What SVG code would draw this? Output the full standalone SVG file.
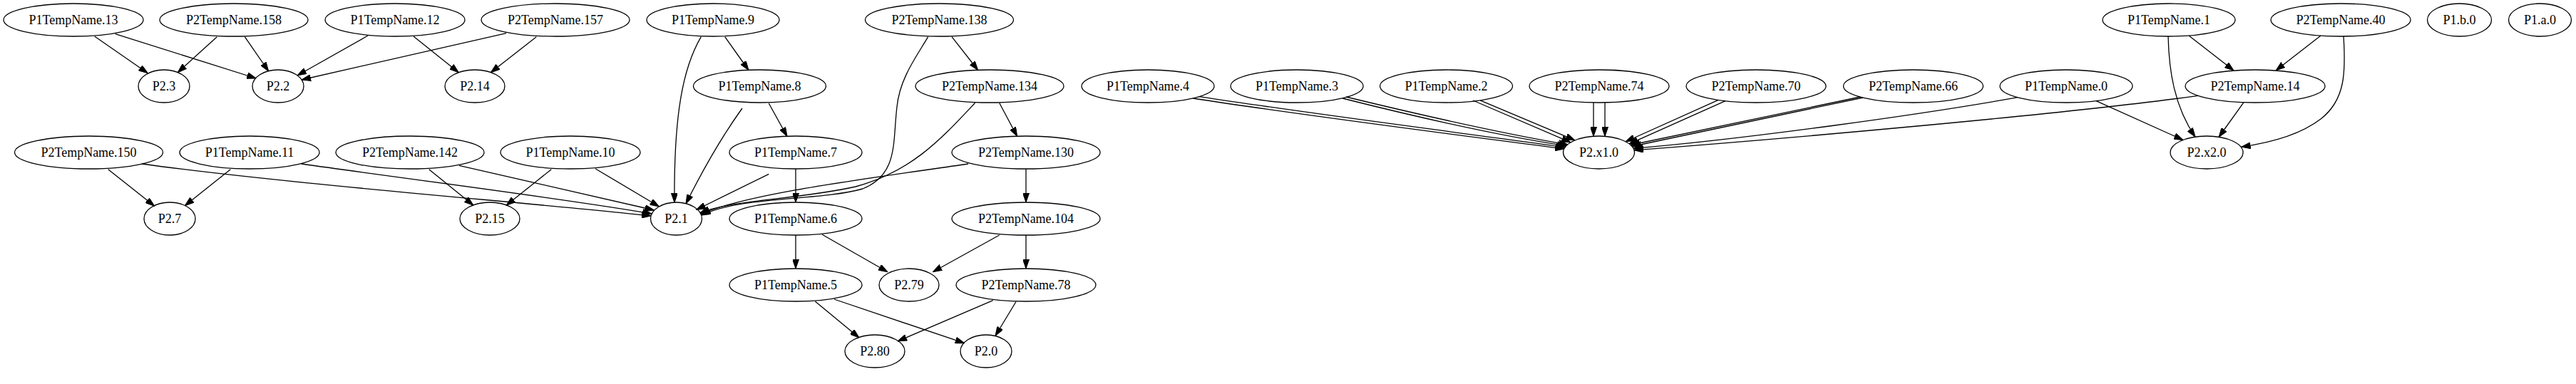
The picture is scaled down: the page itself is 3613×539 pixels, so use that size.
<svg xmlns="http://www.w3.org/2000/svg" width="3613" height="539" viewBox="0 0 3613 539">
<style>
.node ellipse{fill:none;stroke:#000;stroke-width:1.3}
.node text{font-family:"Liberation Serif","Times New Roman",serif;font-size:18px;fill:#000;text-anchor:middle}
#edges path{fill:none;stroke:#000;stroke-width:1.3;marker-end:url(#arr)}
</style>
<defs>
<marker id="arr" viewBox="0 0 13 9" refX="13" refY="4.5" markerWidth="13" markerHeight="9" markerUnits="userSpaceOnUse" orient="auto">
<path d="M0,0 L13,4.5 L0,9 z" fill="#000" stroke="#000" stroke-width="1"/>
</marker>
</defs>
<rect width="3613" height="539" fill="#fff"/>
<g id="edges">
<path d="M132.7,51 L207.3,102.7"/>
<path d="M161.7,47.7 L359.3,110"/>
<path d="M304.3,51.7 L249.3,101.7"/>
<path d="M343.3,51.7 L376.7,100"/>
<path d="M516,50 L417,106"/>
<path d="M710,46.7 L423,112"/>
<path d="M580,51 L643.3,101.7"/>
<path d="M752.3,51.7 L688.3,101.7"/>
<path d="M151.7,237.7 L216.7,289.3"/>
<path d="M323.3,237.7 L259.3,288.7"/>
<path d="M199,230 C400,258 750,285 913,303"/>
<path d="M422.7,230 C600,255 800,280 914,300"/>
<path d="M601.7,237.7 L664,288.3"/>
<path d="M773.3,237.7 L710,288.3"/>
<path d="M644,232.3 L917.5,295"/>
<path d="M835,236.7 L924.5,290"/>
<path d="M983.3,51.7 C958,95 945,160 946,284.2"/>
<path d="M1041,152 C1010,195 980,250 962,286"/>
<path d="M1078.3,244.3 L976.5,294.5"/>
<path d="M1358,230 C1200,253 1050,272 983,300.4"/>
<path d="M1367.7,144.3 C1320,195 1280,240 1200,262 C1120,280 1030,280 982,298.6"/>
<path d="M1301.7,51.7 C1285,80 1262,110 1258,150 C1252,200 1260,245 1210,265 C1150,282 1040,275 984,302"/>
<path d="M1016.7,51.7 L1050,98.5"/>
<path d="M1078.3,145 L1104,191.5"/>
<path d="M1116,237 L1116,284"/>
<path d="M1116,330 L1116,377"/>
<path d="M1153.3,329.3 L1245,381.7"/>
<path d="M1401.7,330 L1308.3,381.7"/>
<path d="M1439,330 L1439,377"/>
<path d="M1439,237 L1439,284"/>
<path d="M1335,51.7 L1371.7,98.5"/>
<path d="M1401.7,144.5 L1426.7,191.5"/>
<path d="M1143.3,423 L1205,474"/>
<path d="M1170,420 L1352.7,481.7"/>
<path d="M1392.7,421.7 L1259,479"/>
<path d="M1425,423.5 L1396,471.5"/>
<path d="M1673,138 C1850,165 2050,190 2194,209"/>
<path d="M1682,135.6 C1855,162 2055,187 2195,206.8"/>
<path d="M1883,138 C1990,165 2100,190 2197,204.8"/>
<path d="M1888,136 C1995,162 2105,187 2199,203"/>
<path d="M2066,141 L2203,199.9"/>
<path d="M2076,140.8 L2209,196.9"/>
<path d="M2235,144 L2235,191.3"/>
<path d="M2251,144 L2251,191.3"/>
<path d="M2410,140.4 L2280,198.8"/>
<path d="M2420,141.7 L2285,201.9"/>
<path d="M2609,136 L2287,203.5"/>
<path d="M2613,137 L2289,205.5"/>
<path d="M2830,136.7 C2700,160 2450,195 2291,208.4"/>
<path d="M3083,134.3 C2900,160 2500,195 2292,210.8"/>
<path d="M2940,141.7 L3062,196.5"/>
<path d="M3147,143.7 L3112,192.5"/>
<path d="M3041,51 C3042,100 3050,150 3079,192.2"/>
<path d="M3070,50 L3133,99.1"/>
<path d="M3255,50 L3192,99"/>
<path d="M3287,51 C3290,100 3290,140 3255,167 C3225,190 3180,201 3143.5,206.2"/>
</g>
<g id="n13" class="node"><ellipse cx="103" cy="28" rx="98" ry="23"/><text x="103" y="34">P1TempName.13</text></g>
<g id="n158" class="node"><ellipse cx="328" cy="28" rx="104" ry="23"/><text x="328" y="34">P2TempName.158</text></g>
<g id="n12" class="node"><ellipse cx="554" cy="28" rx="98" ry="23"/><text x="554" y="34">P1TempName.12</text></g>
<g id="n157" class="node"><ellipse cx="779" cy="28" rx="104" ry="23"/><text x="779" y="34">P2TempName.157</text></g>
<g id="n9" class="node"><ellipse cx="1000" cy="28" rx="93" ry="23"/><text x="1000" y="34">P1TempName.9</text></g>
<g id="n138" class="node"><ellipse cx="1317.5" cy="28" rx="104" ry="23"/><text x="1317.5" y="34">P2TempName.138</text></g>
<g id="n1" class="node"><ellipse cx="3042" cy="28" rx="93" ry="23"/><text x="3042" y="34">P1TempName.1</text></g>
<g id="n40" class="node"><ellipse cx="3283" cy="28" rx="98" ry="23"/><text x="3283" y="34">P2TempName.40</text></g>
<g id="p1b0" class="node"><ellipse cx="3449.5" cy="28" rx="45" ry="23"/><text x="3449.5" y="34">P1.b.0</text></g>
<g id="p1a0" class="node"><ellipse cx="3562.5" cy="28" rx="44" ry="23"/><text x="3562.5" y="34">P1.a.0</text></g>
<g id="p23" class="node"><ellipse cx="230" cy="121" rx="36" ry="23"/><text x="230" y="127">P2.3</text></g>
<g id="p22" class="node"><ellipse cx="390" cy="121" rx="36" ry="23"/><text x="390" y="127">P2.2</text></g>
<g id="p214" class="node"><ellipse cx="666" cy="121" rx="42" ry="23"/><text x="666" y="127">P2.14</text></g>
<g id="n8" class="node"><ellipse cx="1065.5" cy="121" rx="93" ry="23"/><text x="1065.5" y="127">P1TempName.8</text></g>
<g id="n134" class="node"><ellipse cx="1388" cy="121" rx="104" ry="23"/><text x="1388" y="127">P2TempName.134</text></g>
<g id="n4" class="node"><ellipse cx="1610" cy="121" rx="93" ry="23"/><text x="1610" y="127">P1TempName.4</text></g>
<g id="n3" class="node"><ellipse cx="1819" cy="121" rx="93" ry="23"/><text x="1819" y="127">P1TempName.3</text></g>
<g id="n2" class="node"><ellipse cx="2028.5" cy="121" rx="93" ry="23"/><text x="2028.5" y="127">P1TempName.2</text></g>
<g id="n74" class="node"><ellipse cx="2243" cy="121" rx="98" ry="23"/><text x="2243" y="127">P2TempName.74</text></g>
<g id="n70" class="node"><ellipse cx="2463" cy="121" rx="98" ry="23"/><text x="2463" y="127">P2TempName.70</text></g>
<g id="n66" class="node"><ellipse cx="2683.5" cy="121" rx="98" ry="23"/><text x="2683.5" y="127">P2TempName.66</text></g>
<g id="n0" class="node"><ellipse cx="2898" cy="121" rx="93" ry="23"/><text x="2898" y="127">P1TempName.0</text></g>
<g id="n14" class="node"><ellipse cx="3163" cy="121" rx="98" ry="23"/><text x="3163" y="127">P2TempName.14</text></g>
<g id="n150" class="node"><ellipse cx="124.5" cy="214" rx="104" ry="23"/><text x="124.5" y="220">P2TempName.150</text></g>
<g id="n11" class="node"><ellipse cx="350" cy="214" rx="98" ry="23"/><text x="350" y="220">P1TempName.11</text></g>
<g id="n142" class="node"><ellipse cx="575" cy="214" rx="104" ry="23"/><text x="575" y="220">P2TempName.142</text></g>
<g id="n10" class="node"><ellipse cx="800" cy="214" rx="98" ry="23"/><text x="800" y="220">P1TempName.10</text></g>
<g id="n7" class="node"><ellipse cx="1116" cy="214" rx="93" ry="23"/><text x="1116" y="220">P1TempName.7</text></g>
<g id="n130" class="node"><ellipse cx="1439" cy="214" rx="104" ry="23"/><text x="1439" y="220">P2TempName.130</text></g>
<g id="px1" class="node"><ellipse cx="2242.5" cy="214" rx="50" ry="23"/><text x="2242.5" y="220">P2.x1.0</text></g>
<g id="px2" class="node"><ellipse cx="3095" cy="214" rx="51" ry="23"/><text x="3095" y="220">P2.x2.0</text></g>
<g id="p27" class="node"><ellipse cx="238" cy="307" rx="36" ry="23"/><text x="238" y="313">P2.7</text></g>
<g id="p215" class="node"><ellipse cx="687" cy="307" rx="42" ry="23"/><text x="687" y="313">P2.15</text></g>
<g id="p21" class="node"><ellipse cx="948.5" cy="307" rx="36" ry="23"/><text x="948.5" y="313">P2.1</text></g>
<g id="n6" class="node"><ellipse cx="1116" cy="307" rx="93" ry="23"/><text x="1116" y="313">P1TempName.6</text></g>
<g id="n104" class="node"><ellipse cx="1439" cy="307" rx="104" ry="23"/><text x="1439" y="313">P2TempName.104</text></g>
<g id="n5" class="node"><ellipse cx="1116" cy="400" rx="93" ry="23"/><text x="1116" y="406">P1TempName.5</text></g>
<g id="p279" class="node"><ellipse cx="1275" cy="400" rx="42" ry="23"/><text x="1275" y="406">P2.79</text></g>
<g id="n78" class="node"><ellipse cx="1439" cy="400" rx="98" ry="23"/><text x="1439" y="406">P2TempName.78</text></g>
<g id="p280" class="node"><ellipse cx="1227" cy="493" rx="42" ry="23"/><text x="1227" y="499">P2.80</text></g>
<g id="p20" class="node"><ellipse cx="1383" cy="493" rx="36" ry="23"/><text x="1383" y="499">P2.0</text></g>
</svg>
